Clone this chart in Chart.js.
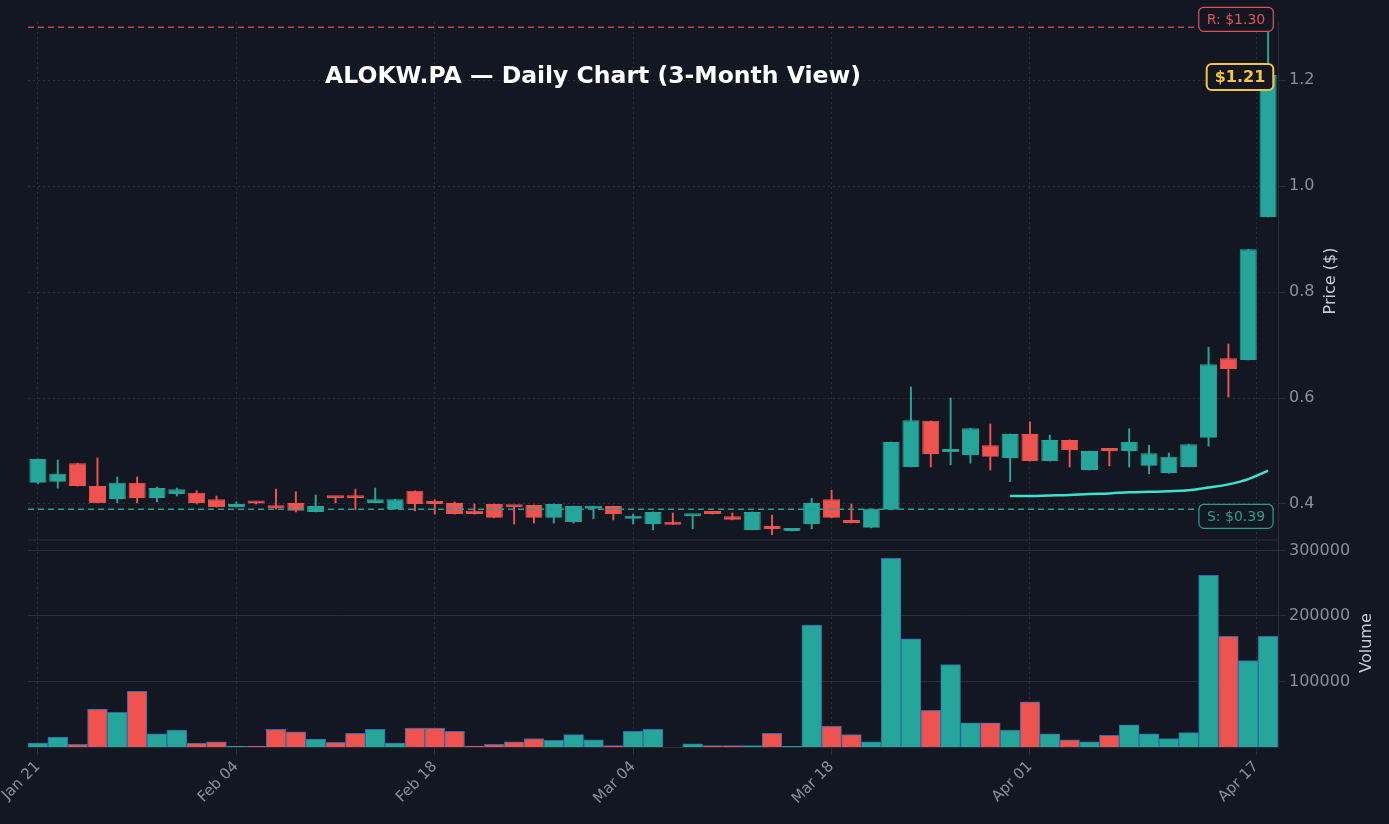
<!DOCTYPE html>
<html>
<head>
<meta charset="utf-8">
<script src="https://cdn.jsdelivr.net/npm/chart.js@4"></script>
<style>
  html, body { margin: 0; background: #131722; }
  #wrap { width: 1389px; height: 824px; }
</style>
</head>
<body>
<div id="wrap"><canvas id="c"></canvas></div>
<script>
const opens  = [0.440,0.442,0.477,0.434,0.409,0.440,0.411,0.419,0.421,0.409,0.394,0.402,0.396,0.402,0.385,0.413,0.413,0.402,0.390,0.425,0.402,
                0.402,0.387,0.400,0.396,0.398,0.374,0.366,0.391,0.396,0.372,0.362,0.362,0.377,0.385,0.377,0.351,0.355,0.349,0.362,0.409,0.368,
                0.355,0.389,0.470,0.557,0.498,0.492,0.511,0.487,0.532,0.481,0.521,0.464,0.502,0.500,0.472,0.458,0.470,0.525,0.675,0.672,0.942];
const closes = [0.485,0.457,0.434,0.402,0.440,0.411,0.430,0.428,0.402,0.394,0.400,0.401,0.392,0.387,0.396,0.411,0.411,0.409,0.409,0.400,0.400,
                0.381,0.381,0.374,0.394,0.374,0.400,0.396,0.396,0.381,0.375,0.385,0.361,0.379,0.381,0.370,0.385,0.353,0.353,0.402,0.374,0.364,
                0.391,0.517,0.558,0.494,0.502,0.543,0.489,0.532,0.481,0.521,0.502,0.500,0.500,0.517,0.496,0.489,0.513,0.664,0.655,0.881,1.210];
const highs  = [0.485,0.483,0.477,0.487,0.451,0.451,0.432,0.430,0.425,0.415,0.404,0.404,0.428,0.423,0.417,0.413,0.428,0.430,0.409,0.425,0.408,
                0.404,0.400,0.400,0.396,0.398,0.400,0.396,0.396,0.396,0.381,0.385,0.383,0.379,0.385,0.383,0.385,0.379,0.353,0.411,0.426,0.400,
                0.391,0.517,0.621,0.557,0.600,0.543,0.551,0.532,0.555,0.530,0.521,0.500,0.502,0.542,0.511,0.496,0.513,0.696,0.702,0.881,1.300];
const lows   = [0.438,0.430,0.434,0.402,0.402,0.402,0.404,0.415,0.400,0.394,0.394,0.400,0.390,0.385,0.385,0.402,0.389,0.402,0.390,0.387,0.381,
                0.381,0.381,0.374,0.362,0.364,0.364,0.364,0.372,0.370,0.362,0.351,0.361,0.353,0.381,0.370,0.351,0.342,0.349,0.353,0.374,0.364,
                0.355,0.389,0.470,0.470,0.474,0.477,0.464,0.442,0.481,0.481,0.470,0.464,0.472,0.470,0.457,0.458,0.470,0.509,0.602,0.672,0.942];
const volumes = [6000,15000,4000,58000,53000,85000,20000,26000,6000,8000,1000,1000,27000,23000,12000,7000,21000,27000,6000,29000,29000,
                 24000,1000,4000,8000,13000,10000,19000,11000,2000,24000,27000,0,5000,2000,2000,2000,21000,1000,186000,32000,19000,
                 8000,288000,165000,56000,126000,37000,37000,26000,69000,20000,11000,8000,18000,34000,20000,13000,22000,262000,169000,132000,169000];
// moving average, starts at index 49
const maStart = 49;
const maValues = [0.415,0.415,0.416,0.417,0.419,0.420,0.422,0.423,0.424,0.426,0.431,0.437,0.447,0.463];
const tickPos = [0, 10, 20, 30, 40, 50, 61.4];
const tickLabels = ['Jan 21', 'Feb 04', 'Feb 18', 'Mar 04', 'Mar 18', 'Apr 01', 'Apr 17'];
const resistance = 1.30, support = 0.39, lastPrice = 1.21;

const GREEN = '#26a69a', RED = '#ef5350';
const up = opens.map((o, i) => closes[i] >= o);
const cols = up.map(u => u ? GREEN : RED);

const levels = {
  id: 'levels',
  afterDatasetsDraw(chart) {
    const { ctx, chartArea: a, scales } = chart;
    const y = scales.y;
    function line(v, color) {
      const py = y.getPixelForValue(v);
      ctx.save();
      ctx.strokeStyle = color; ctx.lineWidth = 1.5; ctx.setLineDash([6, 4]);
      ctx.beginPath(); ctx.moveTo(a.left, py); ctx.lineTo(a.right, py); ctx.stroke();
      ctx.restore();
      return py;
    }
    function box(text, cx, cy, color, fill, bold, size) {
      ctx.save();
      ctx.font = (bold ? 'bold ' : '') + size + 'px "DejaVu Sans"';
      const w = ctx.measureText(text).width + 16, h = size + 10;
      ctx.beginPath(); ctx.roundRect(cx - w / 2, cy - h / 2, w, h, 5);
      ctx.fillStyle = fill; ctx.fill();
      ctx.strokeStyle = color; ctx.lineWidth = bold ? 2 : 1.2; ctx.stroke();
      ctx.fillStyle = color; ctx.textAlign = 'center'; ctx.textBaseline = 'middle';
      ctx.fillText(text, cx, cy + 1);
      ctx.restore();
    }
    function vtext(text, cx, cy) {
      ctx.save();
      ctx.translate(cx, cy); ctx.rotate(-Math.PI / 2);
      ctx.font = '16px "DejaVu Sans"'; ctx.fillStyle = '#c8ccd4';
      ctx.textAlign = 'center'; ctx.textBaseline = 'middle';
      ctx.fillText(text, 0, 0);
      ctx.restore();
    }
    const ry = line(resistance, '#c0464b');
    const sy = line(support, '#2a9d8f');
    box('R: $1.30', 1236, ry - 8, '#e05256', '#131722', false, 14);
    box('S: $0.39', 1236, sy + 7, '#2a9d8f', '#131722', false, 14);
    box('$1.21', 1240, y.getPixelForValue(lastPrice) + 2, '#f6c343', '#131722', true, 16);
    vtext('Price ($)', 1331, 281);
    vtext('Volume', 1367, 643);
    ctx.save();
    ctx.font = 'bold 23.5px "DejaVu Sans"'; ctx.fillStyle = '#ffffff';
    ctx.textAlign = 'center'; ctx.textBaseline = 'middle';
    ctx.fillText('ALOKW.PA — Daily Chart (3-Month View)', 593, 77);
    ctx.strokeStyle = '#2a2e39'; ctx.lineWidth = 1;
    const vy = scales.vol.top;
    ctx.beginPath(); ctx.moveTo(a.left, vy); ctx.lineTo(a.right, vy); ctx.stroke();
    ctx.restore();
  }
};

const xs = opens.map((_, i) => i);

new Chart(document.getElementById('c'), {
  data: {
    datasets: [
      { type: 'bar', yAxisID: 'vol', data: xs.map(i => ({ x: i, y: volumes[i] })),
        backgroundColor: cols, borderColor: '#2b6cb0', borderWidth: 1,
        barPercentage: 1, categoryPercentage: 1, grouped: false, order: 5 },
      { type: 'bar', yAxisID: 'y', data: xs.map(i => ({ x: i, y: [lows[i], highs[i]] })),
        backgroundColor: cols, barThickness: 1.3, grouped: false, order: 3 },
      { type: 'bar', yAxisID: 'y', data: xs.map(i => ({ x: i, y: [opens[i], closes[i]] })),
        backgroundColor: cols, borderColor: cols, borderWidth: 1, minBarLength: 3,
        barPercentage: 0.86, categoryPercentage: 1, grouped: false, order: 2 },
      { type: 'line', yAxisID: 'y', data: maValues.map((v, k) => ({ x: maStart + k, y: v })),
        borderColor: '#40e0d0', borderWidth: 2.5, pointRadius: 0, tension: 0.4, order: 1 }
    ]
  },
  options: {
    responsive: true, maintainAspectRatio: false, animation: false,
    layout: { padding: { top: 22, left: 28, right: 0, bottom: 0 } },
    plugins: { legend: { display: false }, tooltip: { enabled: false } },
    scales: {
      x: {
        type: 'linear', min: -0.5, max: 62.5, offset: false,
        afterBuildTicks: s => { s.ticks = tickPos.map(v => ({ value: v })); },
        ticks: { color: '#8a8f99', font: { size: 15, family: 'DejaVu Sans' }, maxRotation: 45, minRotation: 45,
                 callback: (v, i) => tickLabels[i] },
        grid: { color: '#2a2e39', offset: false, drawTicks: true },
        border: { color: '#2a2e39', dash: [2, 3] },
        afterFit: s => { s.height = 77; }
      },
      y: {
        type: 'linear', position: 'right', stack: 'panes', stackWeight: 518, offset: false,
        min: 0.332, max: 1.31,
        afterBuildTicks: s => { s.ticks = [0.4, 0.6, 0.8, 1.0, 1.2].map(v => ({ value: v })); },
        ticks: { color: '#8a8f99', font: { size: 16, family: 'DejaVu Sans' }, callback: v => v.toFixed(1) },
        grid: { color: '#2a2e39' },
        border: { color: '#2a2e39', dash: [2, 3] },
        afterFit: s => { s.width = 111; }
      },
      vol: {
        type: 'linear', position: 'right', stack: 'panes', stackWeight: 207, offset: false,
        min: 0, max: 316000,
        afterBuildTicks: s => { s.ticks = [100000, 200000, 300000].map(v => ({ value: v })); },
        ticks: { color: '#8a8f99', font: { size: 16, family: 'DejaVu Sans' }, callback: v => String(v) },
        grid: { color: '#2a2e39' },
        border: { color: '#2a2e39' },
        afterFit: s => { s.width = 111; }
      }
    }
  },
  plugins: [levels]
});
</script>
</body>
</html>
